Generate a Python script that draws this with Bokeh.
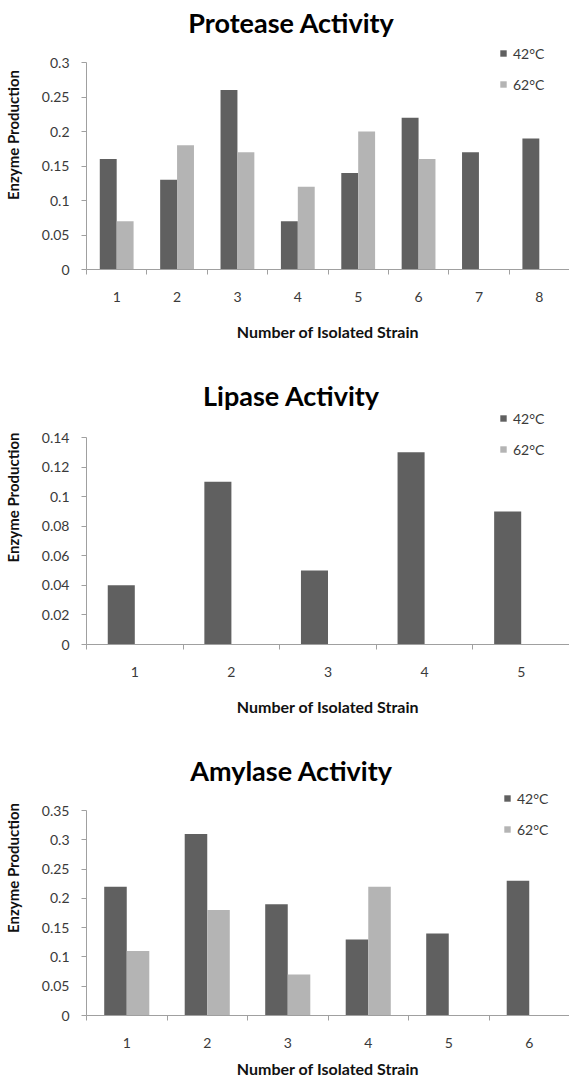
from bokeh.plotting import figure
from bokeh.models import (Range1d, FixedTicker, CustomJSTickFormatter, Label,
                          Legend, LegendItem, ColumnDataSource)
from bokeh.layouts import column
from bokeh.embed import file_html
from bokeh.resources import INLINE
from bokeh.transform import dodge

# ---------------- data ----------------
legend_labels = ["42°C", "62°C"]
x_title = "Number of Isolated Strain"
y_title = "Enzyme Production"

protease_title = "Protease Activity"
protease_strains = [1, 2, 3, 4, 5, 6, 7, 8]
protease_42 = [0.16, 0.13, 0.26, 0.07, 0.14, 0.22, 0.17, 0.19]
protease_62 = [0.07, 0.18, 0.17, 0.12, 0.20, 0.16, 0.0, 0.0]
protease_yticks = [0, 0.05, 0.1, 0.15, 0.2, 0.25, 0.3]

lipase_title = "Lipase Activity"
lipase_strains = [1, 2, 3, 4, 5]
lipase_42 = [0.04, 0.11, 0.05, 0.13, 0.09]
lipase_62 = [0.0, 0.0, 0.0, 0.0, 0.0]
lipase_yticks = [0, 0.02, 0.04, 0.06, 0.08, 0.1, 0.12, 0.14]

amylase_title = "Amylase Activity"
amylase_strains = [1, 2, 3, 4, 5, 6]
amylase_42 = [0.22, 0.31, 0.19, 0.13, 0.14, 0.23]
amylase_62 = [0.11, 0.18, 0.07, 0.22, 0.0, 0.0]
amylase_yticks = [0, 0.05, 0.1, 0.15, 0.2, 0.25, 0.3, 0.35]

# ---------------- style ----------------
FONT = "Lato"
DARK = "#606060"
LIGHT = "#b4b4b4"
AXIS = "#a0a0a0"
TXT = "#3a3a3a"
W = 569
LEFT = 80
AXIS_H = 207  # pixel height from 0 to the top tick


def make_chart(title, strains, v42, v62, yticks, frame_h, bottom,
               title_y, legend_x, legend_y, xlabel_standoff):
    # frame reaches to the top of the figure; axis line stops at the top tick
    y_end = yticks[-1] * frame_h / AXIS_H
    p = figure(width=W, height=frame_h + bottom, output_backend="svg",
               toolbar_location=None,
               x_range=Range1d(strains[0] - 0.5, strains[-1] + 0.5),
               y_range=Range1d(0, y_end),
               min_border_left=LEFT, min_border_right=0,
               min_border_top=0, min_border_bottom=bottom, title=None)
    p.outline_line_color = None
    p.xgrid.visible = False
    p.ygrid.visible = False
    p.background_fill_color = "white"
    p.border_fill_color = "white"

    src = ColumnDataSource(dict(x=strains, a=v42, b=v62))
    r1 = p.vbar(x=dodge("x", -0.14, range=p.x_range), top="a", width=0.28,
                source=src, fill_color=DARK, line_color=None)
    r2 = p.vbar(x=dodge("x", 0.14, range=p.x_range), top="b", width=0.28,
                source=src, fill_color=LIGHT, line_color=None)

    # x axis
    bounds = [s - 0.5 for s in strains] + [strains[-1] + 0.5]
    xa = p.xaxis[0]
    xa.ticker = FixedTicker(ticks=strains, minor_ticks=bounds)
    xa.axis_line_color = AXIS
    xa.major_tick_line_color = None
    xa.major_tick_out = 0
    xa.major_tick_in = 0
    xa.minor_tick_line_color = AXIS
    xa.minor_tick_out = 5
    xa.minor_tick_in = 0
    xa.major_label_standoff = 17
    xa.major_label_text_font = FONT
    xa.major_label_text_font_size = "14px"
    xa.major_label_text_color = TXT
    xa.axis_label = x_title
    xa.axis_label_text_font = FONT
    xa.axis_label_text_font_style = "bold"
    xa.axis_label_text_font_size = "16px"
    xa.axis_label_text_color = "#111111"
    xa.axis_label_standoff = xlabel_standoff

    # y axis
    ya = p.yaxis[0]
    ya.ticker = FixedTicker(ticks=yticks, minor_ticks=[])
    ya.bounds = (0, yticks[-1])
    ya.formatter = CustomJSTickFormatter(code="return String(parseFloat(tick.toFixed(4)))")
    ya.axis_line_color = AXIS
    ya.major_tick_line_color = AXIS
    ya.major_tick_out = 5
    ya.major_tick_in = 0
    ya.minor_tick_line_color = None
    ya.major_label_standoff = 12
    ya.major_label_text_font = FONT
    ya.major_label_text_font_size = "14px"
    ya.major_label_text_color = TXT
    ya.axis_label = y_title
    ya.axis_label_text_font = FONT
    ya.axis_label_text_font_style = "bold"
    ya.axis_label_text_font_size = "15px"
    ya.axis_label_text_color = "#111111"
    ya.axis_label_standoff = 17

    # title (inside the frame area, centred on the page)
    p.add_layout(Label(x=205, y=title_y, x_units="screen", y_units="screen",
                       text=title, text_align="center", text_baseline="alphabetic",
                       text_font=FONT, text_font_style="bold", text_font_size="27px",
                       text_color="#000000"))

    legend = Legend(items=[LegendItem(label=legend_labels[0], renderers=[r1]),
                           LegendItem(label=legend_labels[1], renderers=[r2])],
                    location=(legend_x, legend_y), orientation="vertical",
                    glyph_width=8, glyph_height=8, label_height=20, spacing=11,
                    padding=0, margin=0, border_line_color=None,
                    background_fill_alpha=0, label_standoff=6,
                    label_text_font=FONT, label_text_font_size="14px",
                    label_text_color=TXT)
    p.add_layout(legend)
    return p


p1 = make_chart(protease_title, protease_strains, protease_42, protease_62,
                protease_yticks, 269, 81, 247, 413, 175, 17)
p2 = make_chart(lipase_title, lipase_strains, lipase_42, lipase_62,
                lipase_yticks, 294, 76, 249, 413, 185, 17)
p3 = make_chart(amylase_title, amylase_strains, amylase_42, amylase_62,
                amylase_yticks, 298, 62, 245, 417, 176, 8)

layout = column(p1, p2, p3)
open("out.html", "w").write(file_html(layout, INLINE))
